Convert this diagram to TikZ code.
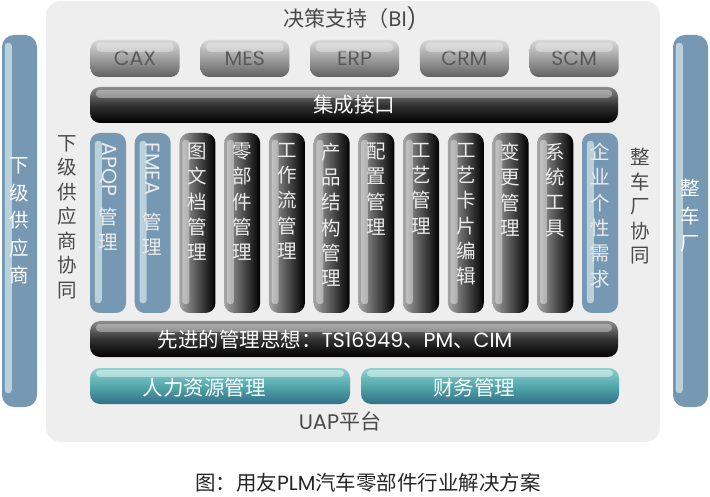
\documentclass[tikz,border=0pt]{standalone}
\usepackage{fontspec}
\setmainfont{Noto Sans CJK SC}
\newfontfamily\latfont{Poppins}

\definecolor{panelgray}{HTML}{EEEEEE}
\definecolor{barblue}{HTML}{7698B2}
\definecolor{stripblue}{HTML}{B9D1DB}
\definecolor{tealtop}{HTML}{8ED0CF}
\definecolor{tealmid}{HTML}{52A8AC}
\definecolor{tealbot}{HTML}{336E88}
\definecolor{labelgray}{HTML}{4A4A4A}

\tikzset{
	panel/.style={fill=panelgray, rounded corners=15pt, minimum width=614pt, minimum height=441pt, inner sep=0pt},
	sidebar/.style={fill=barblue, rounded corners=12pt, minimum width=35pt, minimum height=372pt, inner sep=0pt},
	sysbtn/.style={rounded corners=9pt, top color=black!15, bottom color=black!62, middle color=black!38, minimum width=89pt, minimum height=37pt, inner sep=0pt, text=black!65, font=\latfont\fontsize{20.5}{20.5}\selectfont},
	darkbar/.style={rounded corners=10pt, top color=black!45, bottom color=black, middle color=black!80, minimum width=528pt, minimum height=36pt, inner sep=0pt, text=white, font=\fontsize{20.5}{20.5}\selectfont},
	darkcol/.style={rounded corners=10pt, left color=black!35, right color=black, minimum width=36pt, minimum height=180pt, inner sep=0pt},
	bluecol/.style={rounded corners=10pt, fill=barblue, minimum width=36pt, minimum height=180pt, inner sep=0pt},
	tealbar/.style={rounded corners=10pt, top color=tealtop, bottom color=tealbot, middle color=tealmid, minimum height=36pt, inner sep=0pt, text=white, font=\fontsize{20.5}{20.5}\selectfont},
	coltext/.style={text=white!92!black, align=center, font=\fontsize{19.5}{25.3}\selectfont, inner sep=0pt, anchor=north},
	sidetext/.style={text=labelgray, align=center, font=\fontsize{19.5}{24.5}\selectfont, inner sep=0pt, anchor=north},
	plaintext/.style={font=\fontsize{20.5}{20.5}\selectfont, inner sep=0pt},
	gloss/.style={fill=white, opacity=0.35, rounded corners=4pt},
	strip/.style={fill=stripblue, rounded corners=3pt}
}

\begin{document}
\begin{tikzpicture}[x=1pt,y=-1pt]
	\useasboundingbox (0,0) rectangle (710,497);
	% Platform Panel %
	\node[panel] (uap) at (353,221.5) {};
	% Side Bars %
	\node[sidebar] (supplier) at (19.5,221) {};
	\node[sidebar] (oem) at (690.5,221) {};
	\foreach \s in {supplier, oem}
		{\fill[strip] ([xshift=3pt,yshift=-8pt]\s.north west) rectangle ([xshift=10pt,yshift=14pt]\s.south west);}
	\node[sidetext, anchor=center, text=white, font=\fontsize{19.5}{27.5}\selectfont] (suppliertxt) at (supplier.center) {下\\级\\供\\应\\商};
	\node[sidetext, anchor=center, text=white, font=\fontsize{19.5}{27.5}\selectfont] (oemtxt) at ([yshift=5pt]oem.center) {整\\车\\厂};
	% Decision Support %
	\node[plaintext, text=labelgray, font=\fontsize{21}{21}\selectfont] (bi) at (350,19) {决策支持（{\latfont BI)}};
	% System Buttons %
	\foreach \b/\name [count=\k from 0] in {cax/CAX, mes/MES, erp/ERP, crm/CRM, scm/SCM}
		{\node[sysbtn] (\b) at (135+109.8*\k,58.5) {\name};
		\fill[gloss] ([xshift=6pt,yshift=-3pt]\b.north west) rectangle ([xshift=-6pt,yshift=-12pt]\b.north east);}
	% Integration Bar %
	\node[darkbar] (interface) at (354,105) {集成接口};
	\fill[gloss] ([xshift=6pt,yshift=-3pt]interface.north west) rectangle ([xshift=-6pt,yshift=-11pt]interface.north east);
	% Module Columns %
	\foreach \i/\txt in {2/{图\\文\\档\\管\\理}, 3/{零\\部\\件\\管\\理}, 4/{工\\作\\流\\管\\理}, 5/{产\\品\\结\\构\\管\\理}, 6/{配\\置\\管\\理}, 7/{工\\艺\\管\\理}, 8/{工\\艺\\卡\\片\\编\\辑}, 9/{变\\更\\管\\理}, 10/{系\\统\\工\\具}}
		{\node[darkcol] (col\i) at (108+44.73*\i,223) {};
		\fill[white, opacity=0.4, rounded corners=3pt] ([xshift=3pt,yshift=-7pt]col\i.north west) rectangle ([xshift=10pt,yshift=9pt]col\i.south west);
		\node[coltext] (txt\i) at ([yshift=-10pt]col\i.north) {\txt};}
	\foreach \i in {0, 1, 11}
		{\node[bluecol] (col\i) at (108+44.73*\i,223) {};
		\fill[strip] ([xshift=5pt,yshift=-8pt]col\i.north west) rectangle ([xshift=12pt,yshift=10pt]col\i.south west);}
	\node[coltext, rotate=-90, anchor=west, font=\latfont\fontsize{20.5}{20.5}\selectfont] (apqp) at ([yshift=-10pt]col0.north) {APQP};
	\node[coltext] (apqptxt) at ([yshift=-75pt]col0.north) {管\\理};
	\node[coltext, rotate=-90, anchor=west, font=\latfont\fontsize{20.5}{20.5}\selectfont] (fmea) at ([yshift=-10pt]col1.north) {FMEA};
	\node[coltext] (fmeatxt) at ([yshift=-80pt]col1.north) {管\\理};
	\node[coltext] (txt11) at ([yshift=-10pt]col11.north) {企\\业\\个\\性\\需\\求};
	% Collaboration Labels %
	\node[sidetext] (suppliercoop) at (67,135) {下\\级\\供\\应\\商\\协\\同};
	\node[sidetext] (oemcoop) at (640,148) {整\\车\\厂\\协\\同};
	% Management Ideas %
	\node[darkbar] (ideas) at (354,339) {};
	\fill[gloss] ([xshift=6pt,yshift=-3pt]ideas.north west) rectangle ([xshift=-6pt,yshift=-11pt]ideas.north east);
	\node[plaintext, text=white] (ideastxt) at (335,340) {先进的管理思想：{\latfont TS16949}、{\latfont PM}、{\latfont CIM}};
	% Bottom Modules %
	\node[tealbar, minimum width=260pt] (hr) at (220,386) {};
	\node[tealbar, minimum width=258pt] (finance) at (490,386) {};
	\foreach \t in {hr, finance}
		{\fill[white, opacity=0.45, rounded corners=4pt] ([xshift=6pt,yshift=-2pt]\t.north west) rectangle ([xshift=-6pt,yshift=-9pt]\t.north east);}
	\node[plaintext, text=white] (hrtxt) at (204,388) {人力资源管理};
	\node[plaintext, text=white] (financetxt) at (474,388) {财务管理};
	% Platform Label %
	\node[plaintext, text=labelgray, font=\fontsize{21}{21}\selectfont] (uaptxt) at (340,421) {{\latfont UAP}平台};
	% Caption %
	\node[plaintext, text=black!85] (caption) at (368,483) {图：用友{\latfont PLM}汽车零部件行业解决方案};
\end{tikzpicture}
\end{document}
